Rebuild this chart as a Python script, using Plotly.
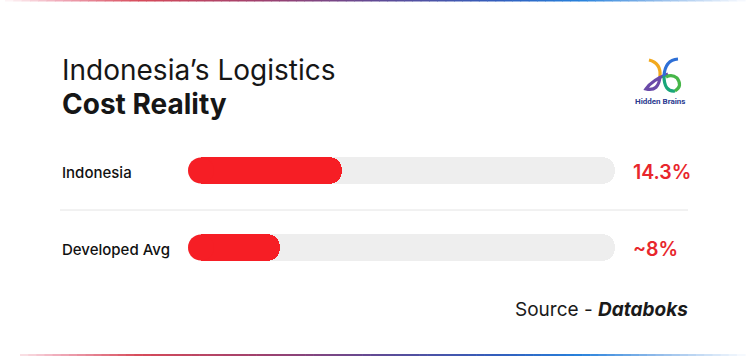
import numpy as np
import plotly.graph_objects as go

# ---- data ----
categories = ["Indonesia", "Developed Avg"]
values = [14.3, 8.0]
value_labels = ["14.3%", "~8%"]
track_max = 42

title_line1 = "Indonesia’s Logistics"
title_line2 = "Cost Reality"
source_prefix = "Source - "
source_name = "Databoks"

W, H = 750, 356
RED = "#f61e25"
TRACK = "#eeeeee"
BAR_PX = 26

fig = go.Figure()

# background track (subplot x/y)
fig.add_trace(go.Bar(
    y=categories, x=[track_max] * len(categories), orientation="h",
    marker=dict(color=TRACK, cornerradius=BAR_PX / 2, line=dict(width=0)),
    width=0.338, hoverinfo="skip", showlegend=False, xaxis="x", yaxis="y"))
# left caps of the track
fig.add_trace(go.Scatter(
    y=categories, x=[0] * len(categories), mode="markers",
    marker=dict(size=BAR_PX, color=TRACK, line=dict(width=0)),
    hoverinfo="skip", showlegend=False, cliponaxis=False, xaxis="x", yaxis="y"))
# value bars (overlaid subplot x2/y2 so their ends get rounded)
fig.add_trace(go.Bar(
    y=categories, x=values, orientation="h",
    marker=dict(color=RED, cornerradius=BAR_PX / 2, line=dict(width=0)),
    width=0.338, showlegend=False, xaxis="x2", yaxis="y2"))
# rounded left caps of value bars
fig.add_trace(go.Scatter(
    y=categories, x=[0] * len(categories), mode="markers",
    marker=dict(size=BAR_PX, color=RED, line=dict(width=0)),
    hoverinfo="skip", showlegend=False, cliponaxis=False, xaxis="x2", yaxis="y2"))

shapes = []
annotations = []

# category labels & value labels
for cat, lab in zip(categories, value_labels):
    annotations.append(dict(
        x=60 / W, xref="paper", y=cat, yref="y", text=cat, showarrow=False,
        xanchor="left", yanchor="middle", yshift=-2,
        font=dict(family="Inter", size=15, color="#111111", weight=500)))
    annotations.append(dict(
        x=631 / W, xref="paper", y=cat, yref="y", text=lab, showarrow=False,
        xanchor="left", yanchor="middle", yshift=-1,
        font=dict(family="Inter", size=19.5, color="#e8262c", weight=600)))

# titles
annotations.append(dict(
    x=60 / W, xref="paper", y=1 - 70 / H, yref="paper", text=title_line1,
    showarrow=False, xanchor="left", yanchor="middle",
    font=dict(family="Inter", size=28, color="#161616", weight=400)))
annotations.append(dict(
    x=60 / W, xref="paper", y=1 - 104.5 / H, yref="paper", text=title_line2,
    showarrow=False, xanchor="left", yanchor="middle",
    font=dict(family="Inter", size=28, color="#161616", weight=700)))

# source
annotations.append(dict(
    x=690 / W, xref="paper", y=1 - 309 / H, yref="paper",
    text=source_prefix + "<b><i>" + source_name + "</i></b>",
    showarrow=False, xanchor="right", yanchor="middle",
    font=dict(family="Inter", size=19, color="#1a1a1a")))

# logo text
annotations.append(dict(
    x=660 / W, xref="paper", y=1 - 102 / H, yref="paper", text="<b>Hidden Brains</b>",
    showarrow=False, xanchor="center", yanchor="middle",
    font=dict(family="Roboto", size=8, color="#2b3a8f")))

def P(x, y):
    return f"{x / W:.5f} {1 - y / H:.5f}"

# logo strokes (decorative)
logo_paths = [
    ("M " + P(649, 60) + " Q " + P(661, 63) + " " + P(660, 76), "#f2a91d"),
    ("M " + P(660, 76) + " Q " + P(659, 92) + " " + P(646, 89) + " Q " + P(652, 80) + " " + P(668, 74), "#6a4aa8"),
    ("M " + P(678, 59) + " Q " + P(665, 60) + " " + P(664, 76), "#2d6fd6"),
    ("M " + P(664, 76) + " Q " + P(664, 92) + " " + P(675, 91), "#1aa67a"),
    ("M " + P(675, 91) + " Q " + P(683, 86) + " " + P(677, 78) + " Q " + P(672, 74) + " " + P(666, 77), "#46b649"),
]
for d, c in logo_paths:
    shapes.append(dict(type="path", path=d, xref="paper", yref="paper",
                       line=dict(color=c, width=3.2)))

# separator
shapes.append(dict(type="line", xref="paper", yref="paper",
                   x0=60 / W, x1=688 / W, y0=1 - 210 / H, y1=1 - 210 / H,
                   line=dict(color="#e4e4e4", width=1)))

# gradient border lines (decorative)
stops_x = [5, 60, 140, 260, 380, 500, 580, 660, 745]
stops_rgb = np.array([
    [255, 250, 250], [240, 170, 185], [215, 75, 90], [160, 65, 110],
    [95, 75, 150], [50, 95, 190], [40, 130, 220], [150, 190, 235], [250, 252, 255]])
def grad_line(y, x_from, x_to):
    xs = np.linspace(x_from, x_to, 90)
    for a, b in zip(xs[:-1], xs[1:]):
        m = (a + b) / 2
        rgb = [int(np.interp(m, stops_x, stops_rgb[:, k])) for k in range(3)]
        shapes.append(dict(type="line", xref="paper", yref="paper",
                           x0=a / W, x1=b / W + 0.0008, y0=1 - y / H, y1=1 - y / H,
                           line=dict(color=f"rgb({rgb[0]},{rgb[1]},{rgb[2]})", width=2)))
grad_line(0.5, 5, 745)
grad_line(355, 20, 745)

x_dom = [(188 + BAR_PX / 2) / W, 615 / W]
y_dom = [(H - 286) / H, (H - 132) / H]
fig.update_layout(
    width=W, height=H, margin=dict(l=0, r=0, t=0, b=0),
    paper_bgcolor="#ffffff", plot_bgcolor="rgba(0,0,0,0)",
    barmode="overlay", bargap=0,
    xaxis=dict(domain=x_dom, range=[0, track_max], visible=False, fixedrange=True),
    yaxis=dict(domain=y_dom, range=[1.5, -0.5], type="category",
               categoryarray=categories, visible=False, fixedrange=True),
    xaxis2=dict(domain=x_dom, range=[0, track_max], visible=False, fixedrange=True,
                overlaying="x", anchor="y2"),
    yaxis2=dict(domain=y_dom, range=[1.5, -0.5], type="category",
                categoryarray=categories, visible=False, fixedrange=True,
                overlaying="y", anchor="x2"),
    shapes=shapes, annotations=annotations,
)

fig.write_html("out.html")
